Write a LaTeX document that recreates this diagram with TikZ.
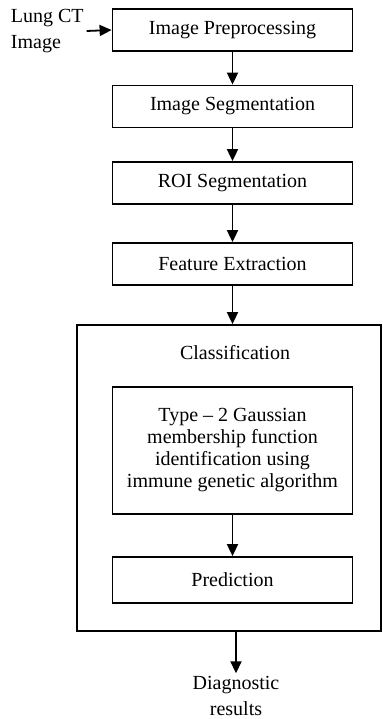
\documentclass[tikz,border=0pt]{standalone}
\usepackage{fontspec}
\setmainfont{Liberation Serif}
\usepackage{tikz}
\usetikzlibrary{positioning, arrows.meta}

\begin{document}
\begin{tikzpicture}[on grid, node distance=38.25pt,
    >={Triangle[length=6pt,width=5.5pt]}, line width=0.9pt,
    stage/.style={draw, minimum width=120pt, minimum height=21pt, inner sep=2pt,
      font=\fontsize{10}{11}\selectfont},
    plain/.style={align=center, inner sep=1pt, font=\fontsize{10}{13}\selectfont}]
        \useasboundingbox (0,0) rectangle (191.5pt,-359.5pt);
        \node[stage] (prep) at (116.25pt,-15pt) {Image Preprocessing};
        \node[stage] (seg) [below=of prep] {Image Segmentation};
        \node[stage] (roi) [below=of seg] {ROI Segmentation};
        \node[stage] (feat) [below=40.5pt of roi] {Feature Extraction};
        \node[draw, minimum width=152pt, minimum height=153pt] (cls) at (114.5pt,-239pt) {};
        \node[plain] (cls_t) [below=14pt of cls.north, anchor=center, xshift=3pt] {Classification};
        \node[stage, align=center, minimum height=63.5pt] (gauss) [below=93.25pt of feat]
          {Type -- 2 Gaussian\\membership function\\identification using\\immune genetic algorithm};
        \node[stage, minimum height=23pt] (pred) [below=64.75pt of gauss] {Prediction};
        \node[plain] (diag) [below=32pt of cls.south, anchor=center, xshift=3.5pt] {Diagnostic\\results};
        \node[plain, align=left, anchor=west] (lung) at (4pt,-15.5pt) {Lung CT\\Image};
        \path[->]
        (lung.east) edge (prep.west)
        (prep) edge (seg)
        (seg) edge (roi)
        (roi) edge (feat)
        (feat) edge (cls.north -| feat)
        (gauss) edge (pred)
        (cls.south -| diag) edge (diag);
      \end{tikzpicture}
\end{document}
